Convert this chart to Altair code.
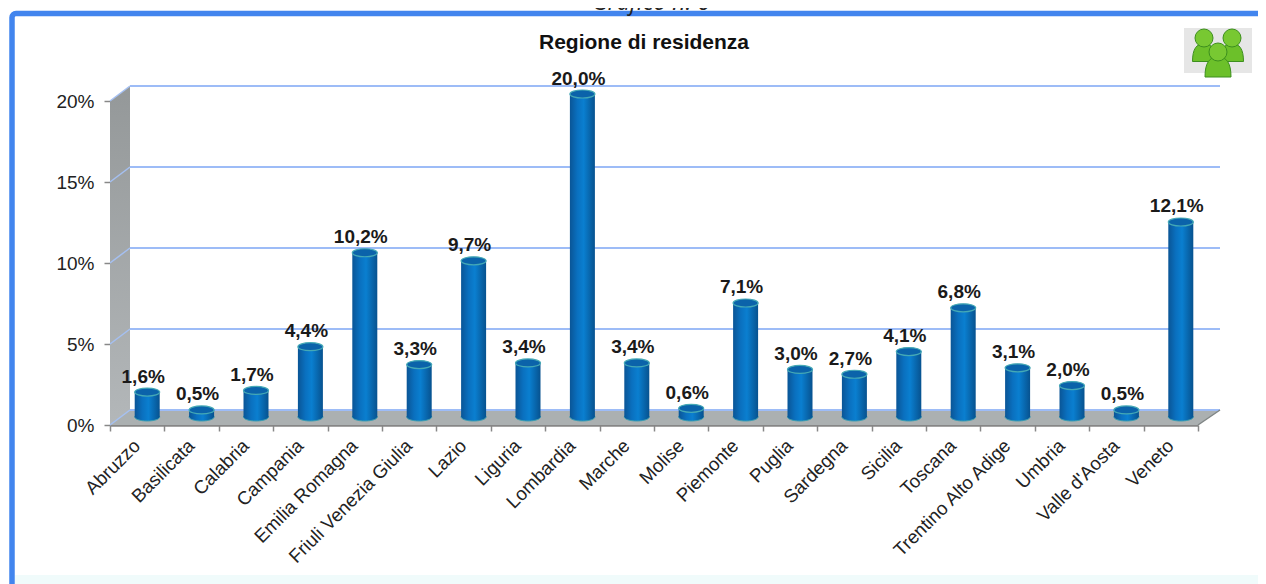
import altair as alt
import pandas as pd

regions = ["Abruzzo", "Basilicata", "Calabria", "Campania", "Emilia Romagna", "Friuli Venezia Giulia",
           "Lazio", "Liguria", "Lombardia", "Marche", "Molise", "Piemonte", "Puglia", "Sardegna",
           "Sicilia", "Toscana", "Trentino Alto Adige", "Umbria", "Valle d'Aosta", "Veneto"]
values = [1.6, 0.5, 1.7, 4.4, 10.2, 3.3, 9.7, 3.4, 20.0, 3.4, 0.6, 7.1, 3.0, 2.7, 4.1, 6.8, 3.1, 2.0, 0.5, 12.1]
levels = [0, 5, 10, 15, 20]

W, H = 1088, 324
OX, OY = 110, 101
FONT = "Liberation Sans"

depth_x = 20 / 54.4      # wall depth, in category units
depth_x_end = 22 / 54.4
depth_y = 15 / 16.2      # wall depth, in percent units
bar_dx = 10 / 54.4
bar_base = 8 / 16.2
bar_top = 7 / 16.2

xs = alt.Scale(domain=[0, 20], nice=False, zero=False, padding=0)
ys = alt.Scale(domain=[0, 20], nice=False, padding=0)
y_axis = alt.Axis(orient="left", values=levels, labelExpr="datum.value + '%'", labelFont=FONT,
                  labelFontSize=19, labelColor="#222222", tickColor="#888888", tickSize=6, tickWidth=1.5,
                  domainColor="#808080", domainWidth=1, labelPadding=10, grid=False, title=None)
X = lambda f: alt.X(f, type="quantitative", scale=xs, axis=None)
Y = lambda f: alt.Y(f, type="quantitative", scale=ys, axis=y_axis, title=None)

df = pd.DataFrame({
    "region": regions,
    "value": values,
    "label": [f"{v:.1f}".replace(".", ",") + "%" for v in values],
})
df["xc"] = [i + 0.5 + bar_dx for i in range(len(regions))]
df["base"] = bar_base
df["top"] = df["value"] + bar_top

wall = pd.DataFrame({"x": [0, depth_x], "y": [20, 20 + depth_y], "y2": [0, depth_y]})
floor = pd.DataFrame({"x": [0, depth_x, 20, 20 + depth_x_end],
                      "y": [0, depth_y, depth_y, depth_y],
                      "y2": [0, 0, 0, depth_y]})
back = pd.DataFrame({"k": levels})
back["y"] = back["k"] + depth_y
back["x"] = depth_x
back["x2"] = 20 + depth_x_end
slant = pd.DataFrame([{"k": k, "x": p, "y": k + (depth_y if p else 0)} for k in levels for p in (0, depth_x)])
right_edge = pd.DataFrame({"x": [20, 20 + depth_x_end], "y": [0, depth_y]})

ELLIPSE = "M-1,0 A1,0.32 0 1 1 1,0 A1,0.32 0 1 1 -1,0 Z"
BODY = "M-1,1 C-1,-0.1 -0.65,-0.55 0,-0.55 C0.65,-0.55 1,-0.1 1,1 Z"
blue_grad = alt.LinearGradient(gradient="linear", x1=0, x2=1, y1=0, y2=0, stops=[
    alt.GradientStop(offset=0, color="#0a5596"),
    alt.GradientStop(offset=0.3, color="#0a70bf"),
    alt.GradientStop(offset=0.55, color="#0a7fd0"),
    alt.GradientStop(offset=1, color="#07528f"),
])
wall_grad = alt.LinearGradient(gradient="linear", x1=0, x2=0, y1=0, y2=1, stops=[
    alt.GradientStop(offset=0, color="#949899"),
    alt.GradientStop(offset=1, color="#b3b7b9"),
])

def px(v):
    return alt.value(v - OX)

def py(v):
    return alt.value(v - OY)

dummy = alt.Data(values=[{"a": 1}])

layers = []

# backdrop, frame, clipped caption above the frame
layers.append(alt.Chart(dummy).mark_rect(fill="#f0fbfb").encode(x=px(15), x2=px(1266), y=py(575), y2=py(584)))
layers.append(alt.Chart(dummy).mark_rect(fill="transparent", stroke="#4285ee", strokeWidth=5.5, cornerRadius=4)
              .encode(x=px(12), x2=px(1400), y=py(13.5), y2=py(800)))
layers.append(alt.Chart(dummy).mark_text(text="Grafico n. 6", font="Open Sans", fontStyle="italic", fontSize=23,
                                         align="center", baseline="alphabetic", color="#222222")
              .encode(x=px(651), y=py(10)))
layers.append(alt.Chart(dummy).mark_text(text="Regione di residenza", font=FONT, fontSize=21, fontWeight="bold",
                                         align="center", baseline="middle", color="#111111")
              .encode(x=px(644), y=py(43)))

# walls and floor
layers.append(alt.Chart(wall).mark_area(fill=wall_grad, orient="vertical").encode(x=X("x"), y=Y("y"), y2="y2"))
layers.append(alt.Chart(floor).mark_area(fill="#abb0b1", orient="vertical").encode(x=X("x"), y=Y("y"), y2="y2"))
layers.append(alt.Chart(back).mark_rule(stroke="#9dbcf7", strokeWidth=2).encode(x=X("x"), x2="x2", y=Y("y")))
layers.append(alt.Chart(slant).mark_line(stroke="#a5c0f2", strokeWidth=1.5).encode(x=X("x"), y=Y("y"), detail="k:N"))
layers.append(alt.Chart(right_edge).mark_line(stroke="#808686", strokeWidth=1.5).encode(x=X("x"), y=Y("y")))

# cylinders
layers.append(alt.Chart(df).mark_point(shape=ELLIPSE, size=625, filled=True, fill=blue_grad, stroke="#3d9fb0",
                                       strokeWidth=1, opacity=1)
              .encode(x=X("xc"), y=Y("base")))
layers.append(alt.Chart(df).mark_bar(size=25, fill=blue_grad, orient="vertical")
              .encode(x=X("xc"), y=Y("top"), y2="base"))
layers.append(alt.Chart(df).mark_point(shape=ELLIPSE, size=625, filled=True, fill="#0b63aa", stroke="#45a9b5",
                                       strokeWidth=1.2, opacity=1)
              .encode(x=X("xc"), y=Y("top")))
layers.append(alt.Chart(df).mark_text(font=FONT, fontWeight="bold", fontSize=19, color="#1a1a1a",
                                      dx=-4, dy=-15.5, baseline="middle")
              .encode(x=X("xc"), y=Y("top"), text="label:N"))

# icon
layers.append(alt.Chart(dummy).mark_rect(fill="#e6e6e6").encode(x=px(1184), x2=px(1252), y=py(28), y2=py(73)))
for cx, cy, sz_head, sz_body in [(1204, 38, 18, 23), (1232, 38, 18, 23), (1218, 52, 18, 26)]:
    by = cy + 12
    layers.append(alt.Chart(dummy).mark_point(shape=BODY, size=sz_body ** 2, filled=True, fill="#6cc02a",
                                              stroke="#3d8f1e", strokeWidth=1, opacity=1)
                  .encode(x=px(cx), y=py(by)))
    layers.append(alt.Chart(dummy).mark_point(shape="circle", size=sz_head ** 2, filled=True, fill="#78c832",
                                              stroke="#3d8f1e", strokeWidth=1, opacity=1)
                  .encode(x=px(cx), y=py(cy)))

# real x axis, on an invisible layer
axis_layer = alt.Chart(df).mark_tick(opacity=0).encode(
    x=alt.X("region:N", sort=regions, title=None,
            scale=alt.Scale(type="band", domain=regions, paddingInner=0, paddingOuter=0, round=False),
            axis=alt.Axis(orient="bottom", labelAngle=-45, labelFont=FONT, labelFontSize=18.7, labelColor="#222222",
                          tickBand="extent", tickColor="#888888", tickSize=6, tickWidth=1.5,
                          domainColor="#868686", domainWidth=2.5, labelPadding=5, labelOffset=-7, grid=False,
                          labelOverlap=False, labelLimit=400)),
    y=Y("value"),
)

chart = alt.layer(*layers, axis_layer).resolve_scale(x="independent").properties(
    width=W, height=H,
    autosize=alt.AutoSizeParams(type="none"),
    padding={"left": 102, "top": 93, "right": 60, "bottom": 159},
    background="white",
).configure_view(stroke=None)

chart.save("out.html", embed_options={"renderer": "svg", "actions": False})
